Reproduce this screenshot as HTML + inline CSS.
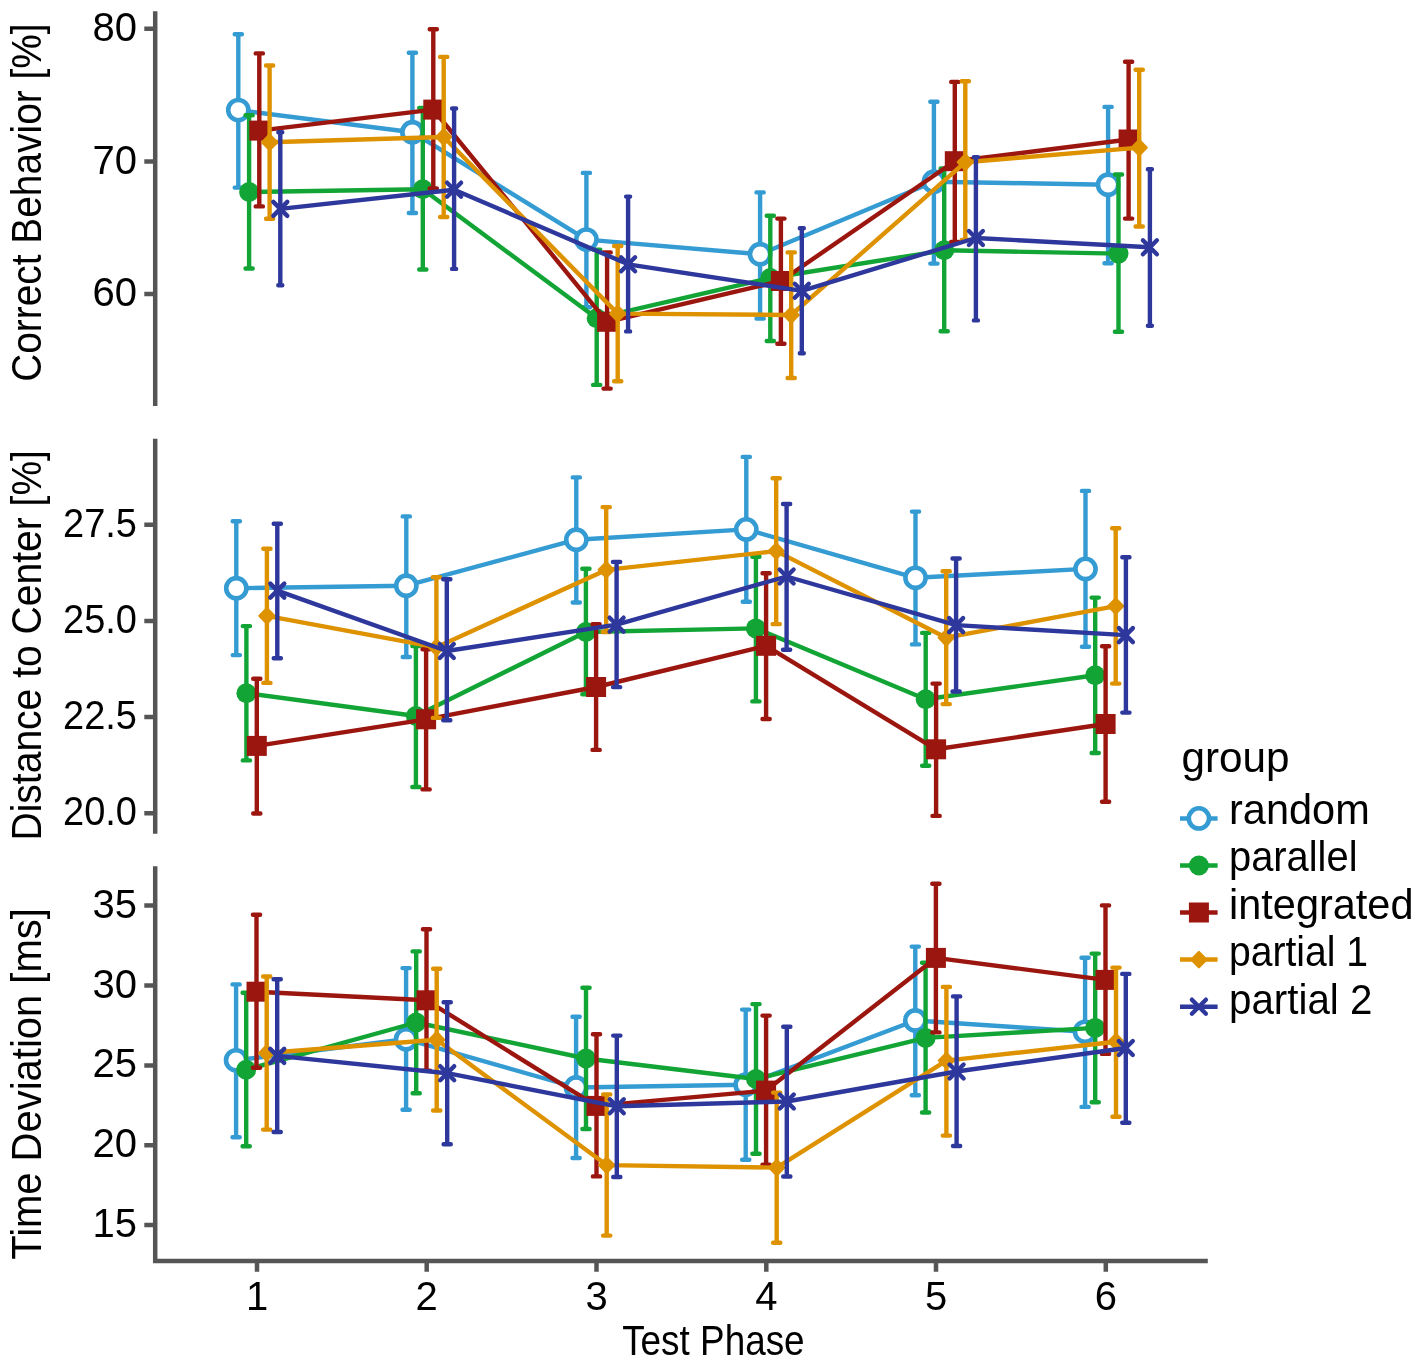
<!DOCTYPE html>
<html><head><meta charset="utf-8"><style>
html,body{margin:0;padding:0;background:#fff;}
svg{display:block;filter:blur(0.7px);}
</style></head><body>
<svg width="1418" height="1367" viewBox="0 0 1418 1367">
<rect width="1418" height="1367" fill="#fff"/>
<path d="M155.2 11.3V406" stroke="#555555" stroke-width="4.5" fill="none"/>
<path d="M155.2 438.8V833.7" stroke="#555555" stroke-width="4.5" fill="none"/>
<path d="M155.2 866.2V1263.3M152.95 1261.1H1207.8" stroke="#555555" stroke-width="4.5" fill="none"/>
<path d="M144.3 28.7H155M144.3 161.5H155M144.3 294.1H155M144.3 524.8H155M144.3 620.9H155M144.3 717.1H155M144.3 813.2H155M144.3 905.6H155M144.3 985.5H155M144.3 1065.4H155M144.3 1145.2H155M144.3 1225.1H155M257 1261V1271.7M426.7 1261V1271.7M596.5 1261V1271.7M766.3 1261V1271.7M936 1261V1271.7M1105.8 1261V1271.7" stroke="#555555" stroke-width="4.5" fill="none"/>
<path d="M238.3 110.1 L412.4 132.2 L586.4 239.6 L760.1 254.2 L933.9 181.7 L1108.1 184.7" fill="none" stroke="#349BD3" stroke-width="4.4" stroke-linejoin="round" stroke-linecap="round"/>
<path d="M238.3 34.3V187.6M234.7 34.3H241.9M234.7 187.6H241.9M412.4 52.8V213M408.8 52.8H416M408.8 213H416M586.4 172.9V307.2M582.8 172.9H590M582.8 307.2H590M760.1 192.4V318.6M756.5 192.4H763.7M756.5 318.6H763.7M933.9 101.8V263.6M930.3 101.8H937.5M930.3 263.6H937.5M1108.1 106.9V263.2M1104.5 106.9H1111.7M1104.5 263.2H1111.7" fill="none" stroke="#349BD3" stroke-width="4.4" stroke-linecap="round"/>
<circle cx="238.3" cy="110.1" r="10.1" fill="#fff" stroke="#349BD3" stroke-width="4.6"/>
<circle cx="412.4" cy="132.2" r="10.1" fill="#fff" stroke="#349BD3" stroke-width="4.6"/>
<circle cx="586.4" cy="239.6" r="10.1" fill="#fff" stroke="#349BD3" stroke-width="4.6"/>
<circle cx="760.1" cy="254.2" r="10.1" fill="#fff" stroke="#349BD3" stroke-width="4.6"/>
<circle cx="933.9" cy="181.7" r="10.1" fill="#fff" stroke="#349BD3" stroke-width="4.6"/>
<circle cx="1108.1" cy="184.7" r="10.1" fill="#fff" stroke="#349BD3" stroke-width="4.6"/>
<path d="M249.1 192 L422.8 189.3 L596.7 318.2 L770.3 278 L944.2 250.3 L1118.5 253.6" fill="none" stroke="#12A536" stroke-width="4.4" stroke-linejoin="round" stroke-linecap="round"/>
<path d="M249.1 115.2V268.5M245.5 115.2H252.7M245.5 268.5H252.7M422.8 108V269.5M419.2 108H426.4M419.2 269.5H426.4M596.7 249.6V384.9M593.1 249.6H600.3M593.1 384.9H600.3M770.3 215.8V341M766.7 215.8H773.9M766.7 341H773.9M944.2 168.4V331.3M940.6 168.4H947.8M940.6 331.3H947.8M1118.5 174.5V331.7M1114.9 174.5H1122.1M1114.9 331.7H1122.1" fill="none" stroke="#12A536" stroke-width="4.4" stroke-linecap="round"/>
<circle cx="249.1" cy="192" r="10" fill="#12A536"/>
<circle cx="422.8" cy="189.3" r="10" fill="#12A536"/>
<circle cx="596.7" cy="318.2" r="10" fill="#12A536"/>
<circle cx="770.3" cy="278" r="10" fill="#12A536"/>
<circle cx="944.2" cy="250.3" r="10" fill="#12A536"/>
<circle cx="1118.5" cy="253.6" r="10" fill="#12A536"/>
<path d="M259.3 130.6 L433.3 109.6 L607.1 321.8 L780.9 281 L954.8 161.2 L1128.6 139.5" fill="none" stroke="#9C1610" stroke-width="4.4" stroke-linejoin="round" stroke-linecap="round"/>
<path d="M259.3 53.4V206.4M255.7 53.4H262.9M255.7 206.4H262.9M433.3 29.2V188.5M429.7 29.2H436.9M429.7 188.5H436.9M607.1 252.4V388.6M603.5 252.4H610.7M603.5 388.6H610.7M780.9 218.6V343.8M777.3 218.6H784.5M777.3 343.8H784.5M954.8 81.9V242M951.2 81.9H958.4M951.2 242H958.4M1128.6 61.7V218.6M1125 61.7H1132.2M1125 218.6H1132.2" fill="none" stroke="#9C1610" stroke-width="4.4" stroke-linecap="round"/>
<rect x="249.3" y="120.6" width="20" height="20" fill="#9C1610"/>
<rect x="423.3" y="99.6" width="20" height="20" fill="#9C1610"/>
<rect x="597.1" y="311.8" width="20" height="20" fill="#9C1610"/>
<rect x="770.9" y="271" width="20" height="20" fill="#9C1610"/>
<rect x="944.8" y="151.2" width="20" height="20" fill="#9C1610"/>
<rect x="1118.6" y="129.5" width="20" height="20" fill="#9C1610"/>
<path d="M269.6 142.3 L443.7 137 L617.7 313.6 L791.2 315 L965.3 162.2 L1139.2 147.6" fill="none" stroke="#DE9200" stroke-width="4.4" stroke-linejoin="round" stroke-linecap="round"/>
<path d="M269.6 65.5V218.7M266 65.5H273.2M266 218.7H273.2M443.7 56.9V217M440.1 56.9H447.3M440.1 217H447.3M617.7 246V381.3M614.1 246H621.3M614.1 381.3H621.3M791.2 252.4V378M787.6 252.4H794.8M787.6 378H794.8M965.3 81.3V240M961.7 81.3H968.9M961.7 240H968.9M1139.2 69.7V226.5M1135.6 69.7H1142.8M1135.6 226.5H1142.8" fill="none" stroke="#DE9200" stroke-width="4.4" stroke-linecap="round"/>
<path d="M269.6 134.7L277 142.3L269.6 149.9L262.2 142.3Z" fill="#DE9200" stroke="#DE9200" stroke-width="2.4" stroke-linejoin="round"/>
<path d="M443.7 129.4L451.1 137L443.7 144.6L436.3 137Z" fill="#DE9200" stroke="#DE9200" stroke-width="2.4" stroke-linejoin="round"/>
<path d="M617.7 306L625.1 313.6L617.7 321.2L610.3 313.6Z" fill="#DE9200" stroke="#DE9200" stroke-width="2.4" stroke-linejoin="round"/>
<path d="M791.2 307.4L798.6 315L791.2 322.6L783.8 315Z" fill="#DE9200" stroke="#DE9200" stroke-width="2.4" stroke-linejoin="round"/>
<path d="M965.3 154.6L972.7 162.2L965.3 169.8L957.9 162.2Z" fill="#DE9200" stroke="#DE9200" stroke-width="2.4" stroke-linejoin="round"/>
<path d="M1139.2 140L1146.6 147.6L1139.2 155.2L1131.8 147.6Z" fill="#DE9200" stroke="#DE9200" stroke-width="2.4" stroke-linejoin="round"/>
<path d="M280.3 208.9 L454.1 189.7 L628.1 264.3 L801.8 290.8 L975.9 238 L1149.9 247.3" fill="none" stroke="#2E389C" stroke-width="4.4" stroke-linejoin="round" stroke-linecap="round"/>
<path d="M280.3 132.2V285.3M278.3 132.2H282.3M278.3 285.3H282.3M454.1 108.5V268.9M452.1 108.5H456.1M452.1 268.9H456.1M628.1 196.6V331.4M626.1 196.6H630.1M626.1 331.4H630.1M801.8 228.2V353.3M799.8 228.2H803.8M799.8 353.3H803.8M975.9 157.1V320.4M973.9 157.1H977.9M973.9 320.4H977.9M1149.9 169.2V325.8M1147.9 169.2H1151.9M1147.9 325.8H1151.9" fill="none" stroke="#2E389C" stroke-width="4.4" stroke-linecap="round"/>
<path d="M273.3 201.9L287.3 215.9M273.3 215.9L287.3 201.9" stroke="#2E389C" stroke-width="4.4" stroke-linecap="round" fill="none"/>
<path d="M447.1 182.7L461.1 196.7M447.1 196.7L461.1 182.7" stroke="#2E389C" stroke-width="4.4" stroke-linecap="round" fill="none"/>
<path d="M621.1 257.3L635.1 271.3M621.1 271.3L635.1 257.3" stroke="#2E389C" stroke-width="4.4" stroke-linecap="round" fill="none"/>
<path d="M794.8 283.8L808.8 297.8M794.8 297.8L808.8 283.8" stroke="#2E389C" stroke-width="4.4" stroke-linecap="round" fill="none"/>
<path d="M968.9 231L982.9 245M968.9 245L982.9 231" stroke="#2E389C" stroke-width="4.4" stroke-linecap="round" fill="none"/>
<path d="M1142.9 240.3L1156.9 254.3M1142.9 254.3L1156.9 240.3" stroke="#2E389C" stroke-width="4.4" stroke-linecap="round" fill="none"/>
<path d="M236.3 588.2 L406.3 585.7 L576.3 539.7 L746.3 529.4 L915.5 577.8 L1085.5 568.9" fill="none" stroke="#349BD3" stroke-width="4.4" stroke-linejoin="round" stroke-linecap="round"/>
<path d="M236.3 521.3V655.1M232.7 521.3H239.9M232.7 655.1H239.9M406.3 516.4V657M402.7 516.4H409.9M402.7 657H409.9M576.3 477.4V602.5M572.7 477.4H579.9M572.7 602.5H579.9M746.3 456.9V601.8M742.7 456.9H749.9M742.7 601.8H749.9M915.5 511.6V644.4M911.9 511.6H919.1M911.9 644.4H919.1M1085.5 490.9V646.7M1081.9 490.9H1089.1M1081.9 646.7H1089.1" fill="none" stroke="#349BD3" stroke-width="4.4" stroke-linecap="round"/>
<circle cx="236.3" cy="588.2" r="10.1" fill="#fff" stroke="#349BD3" stroke-width="4.6"/>
<circle cx="406.3" cy="585.7" r="10.1" fill="#fff" stroke="#349BD3" stroke-width="4.6"/>
<circle cx="576.3" cy="539.7" r="10.1" fill="#fff" stroke="#349BD3" stroke-width="4.6"/>
<circle cx="746.3" cy="529.4" r="10.1" fill="#fff" stroke="#349BD3" stroke-width="4.6"/>
<circle cx="915.5" cy="577.8" r="10.1" fill="#fff" stroke="#349BD3" stroke-width="4.6"/>
<circle cx="1085.5" cy="568.9" r="10.1" fill="#fff" stroke="#349BD3" stroke-width="4.6"/>
<path d="M246.4 693.2 L415.9 716 L585.9 632 L755.9 628.4 L925.7 699.3 L1095.2 675.2" fill="none" stroke="#12A536" stroke-width="4.4" stroke-linejoin="round" stroke-linecap="round"/>
<path d="M246.4 626.1V760.4M242.8 626.1H250M242.8 760.4H250M415.9 646.1V787M412.3 646.1H419.5M412.3 787H419.5M585.9 568.7V694.3M582.3 568.7H589.5M582.3 694.3H589.5M755.9 556.7V701.4M752.3 556.7H759.5M752.3 701.4H759.5M925.7 632.9V765.7M922.1 632.9H929.3M922.1 765.7H929.3M1095.2 597.6V753M1091.6 597.6H1098.8M1091.6 753H1098.8" fill="none" stroke="#12A536" stroke-width="4.4" stroke-linecap="round"/>
<circle cx="246.4" cy="693.2" r="10" fill="#12A536"/>
<circle cx="415.9" cy="716" r="10" fill="#12A536"/>
<circle cx="585.9" cy="632" r="10" fill="#12A536"/>
<circle cx="755.9" cy="628.4" r="10" fill="#12A536"/>
<circle cx="925.7" cy="699.3" r="10" fill="#12A536"/>
<circle cx="1095.2" cy="675.2" r="10" fill="#12A536"/>
<path d="M256.8 745.9 L426.1 719.3 L596.1 687 L766.1 645.8 L936.1 749.3 L1105.6 724" fill="none" stroke="#9C1610" stroke-width="4.4" stroke-linejoin="round" stroke-linecap="round"/>
<path d="M256.8 678.7V813.5M253.2 678.7H260.4M253.2 813.5H260.4M426.1 649.3V789.4M422.5 649.3H429.7M422.5 789.4H429.7M596.1 624.3V749.9M592.5 624.3H599.7M592.5 749.9H599.7M766.1 573.3V719M762.5 573.3H769.7M762.5 719H769.7M936.1 683.6V815.9M932.5 683.6H939.7M932.5 815.9H939.7M1105.6 646.2V801.7M1102 646.2H1109.2M1102 801.7H1109.2" fill="none" stroke="#9C1610" stroke-width="4.4" stroke-linecap="round"/>
<rect x="246.8" y="735.9" width="20" height="20" fill="#9C1610"/>
<rect x="416.1" y="709.3" width="20" height="20" fill="#9C1610"/>
<rect x="586.1" y="677" width="20" height="20" fill="#9C1610"/>
<rect x="756.1" y="635.8" width="20" height="20" fill="#9C1610"/>
<rect x="926.1" y="739.3" width="20" height="20" fill="#9C1610"/>
<rect x="1095.6" y="714" width="20" height="20" fill="#9C1610"/>
<path d="M266.9 615.9 L436.4 647.3 L606.2 569.9 L776.2 551.1 L946.2 637.7 L1115.7 606.1" fill="none" stroke="#DE9200" stroke-width="4.4" stroke-linejoin="round" stroke-linecap="round"/>
<path d="M266.9 548.8V682.9M263.3 548.8H270.5M263.3 682.9H270.5M436.4 577.3V717.9M432.8 577.3H440M432.8 717.9H440M606.2 507.1V632M602.6 507.1H609.8M602.6 632H609.8M776.2 478.2V624.1M772.6 478.2H779.8M772.6 624.1H779.8M946.2 571.3V704.1M942.6 571.3H949.8M942.6 704.1H949.8M1115.7 528.3V683.6M1112.1 528.3H1119.3M1112.1 683.6H1119.3" fill="none" stroke="#DE9200" stroke-width="4.4" stroke-linecap="round"/>
<path d="M266.9 608.3L274.3 615.9L266.9 623.5L259.5 615.9Z" fill="#DE9200" stroke="#DE9200" stroke-width="2.4" stroke-linejoin="round"/>
<path d="M436.4 639.7L443.8 647.3L436.4 654.9L429 647.3Z" fill="#DE9200" stroke="#DE9200" stroke-width="2.4" stroke-linejoin="round"/>
<path d="M606.2 562.3L613.6 569.9L606.2 577.5L598.8 569.9Z" fill="#DE9200" stroke="#DE9200" stroke-width="2.4" stroke-linejoin="round"/>
<path d="M776.2 543.5L783.6 551.1L776.2 558.7L768.8 551.1Z" fill="#DE9200" stroke="#DE9200" stroke-width="2.4" stroke-linejoin="round"/>
<path d="M946.2 630.1L953.6 637.7L946.2 645.3L938.8 637.7Z" fill="#DE9200" stroke="#DE9200" stroke-width="2.4" stroke-linejoin="round"/>
<path d="M1115.7 598.5L1123.1 606.1L1115.7 613.7L1108.3 606.1Z" fill="#DE9200" stroke="#DE9200" stroke-width="2.4" stroke-linejoin="round"/>
<path d="M277.3 590.6 L446.8 651 L616.6 624.7 L786.6 576.5 L956.1 625.1 L1125.9 635.1" fill="none" stroke="#2E389C" stroke-width="4.4" stroke-linejoin="round" stroke-linecap="round"/>
<path d="M277.3 523.7V658.2M273.7 523.7H280.9M273.7 658.2H280.9M446.8 579.2V720.3M443.2 579.2H450.4M443.2 720.3H450.4M616.6 561.9V687.1M613 561.9H620.2M613 687.1H620.2M786.6 504V649.7M783 504H790.2M783 649.7H790.2M956.1 558.5V691.5M952.5 558.5H959.7M952.5 691.5H959.7M1125.9 557.3V712.6M1122.3 557.3H1129.5M1122.3 712.6H1129.5" fill="none" stroke="#2E389C" stroke-width="4.4" stroke-linecap="round"/>
<path d="M270.3 583.6L284.3 597.6M270.3 597.6L284.3 583.6" stroke="#2E389C" stroke-width="4.4" stroke-linecap="round" fill="none"/>
<path d="M439.8 644L453.8 658M439.8 658L453.8 644" stroke="#2E389C" stroke-width="4.4" stroke-linecap="round" fill="none"/>
<path d="M609.6 617.7L623.6 631.7M609.6 631.7L623.6 617.7" stroke="#2E389C" stroke-width="4.4" stroke-linecap="round" fill="none"/>
<path d="M779.6 569.5L793.6 583.5M779.6 583.5L793.6 569.5" stroke="#2E389C" stroke-width="4.4" stroke-linecap="round" fill="none"/>
<path d="M949.1 618.1L963.1 632.1M949.1 632.1L963.1 618.1" stroke="#2E389C" stroke-width="4.4" stroke-linecap="round" fill="none"/>
<path d="M1118.9 628.1L1132.9 642.1M1118.9 642.1L1132.9 628.1" stroke="#2E389C" stroke-width="4.4" stroke-linecap="round" fill="none"/>
<path d="M236.1 1060.3 L406.1 1039.2 L576.1 1087.5 L745.7 1084.7 L915.3 1020.5 L1085.1 1031.8" fill="none" stroke="#349BD3" stroke-width="4.4" stroke-linejoin="round" stroke-linecap="round"/>
<path d="M236.1 984.4V1137.3M232.5 984.4H239.7M232.5 1137.3H239.7M406.1 968.1V1109.8M402.5 968.1H409.7M402.5 1109.8H409.7M576.1 1016.8V1158M572.5 1016.8H579.7M572.5 1158H579.7M745.7 1009.6V1159.7M742.1 1009.6H749.3M742.1 1159.7H749.3M915.3 946.6V1095.2M911.7 946.6H918.9M911.7 1095.2H918.9M1085.1 957.7V1106.9M1081.5 957.7H1088.7M1081.5 1106.9H1088.7" fill="none" stroke="#349BD3" stroke-width="4.4" stroke-linecap="round"/>
<circle cx="236.1" cy="1060.3" r="10.1" fill="#fff" stroke="#349BD3" stroke-width="4.6"/>
<circle cx="406.1" cy="1039.2" r="10.1" fill="#fff" stroke="#349BD3" stroke-width="4.6"/>
<circle cx="576.1" cy="1087.5" r="10.1" fill="#fff" stroke="#349BD3" stroke-width="4.6"/>
<circle cx="745.7" cy="1084.7" r="10.1" fill="#fff" stroke="#349BD3" stroke-width="4.6"/>
<circle cx="915.3" cy="1020.5" r="10.1" fill="#fff" stroke="#349BD3" stroke-width="4.6"/>
<circle cx="1085.1" cy="1031.8" r="10.1" fill="#fff" stroke="#349BD3" stroke-width="4.6"/>
<path d="M246.2 1069.7 L416.2 1022.5 L586 1058.5 L756 1079 L925.6 1037.9 L1095.2 1027.9" fill="none" stroke="#12A536" stroke-width="4.4" stroke-linejoin="round" stroke-linecap="round"/>
<path d="M246.2 992.7V1146.2M242.6 992.7H249.8M242.6 1146.2H249.8M416.2 951.4V1093.2M412.6 951.4H419.8M412.6 1093.2H419.8M586 987.8V1129M582.4 987.8H589.6M582.4 1129H589.6M756 1004.1V1153.8M752.4 1004.1H759.6M752.4 1153.8H759.6M925.6 962.8V1112.5M922 962.8H929.2M922 1112.5H929.2M1095.2 953.6V1102.3M1091.6 953.6H1098.8M1091.6 1102.3H1098.8" fill="none" stroke="#12A536" stroke-width="4.4" stroke-linecap="round"/>
<circle cx="246.2" cy="1069.7" r="10" fill="#12A536"/>
<circle cx="416.2" cy="1022.5" r="10" fill="#12A536"/>
<circle cx="586" cy="1058.5" r="10" fill="#12A536"/>
<circle cx="756" cy="1079" r="10" fill="#12A536"/>
<circle cx="925.6" cy="1037.9" r="10" fill="#12A536"/>
<circle cx="1095.2" cy="1027.9" r="10" fill="#12A536"/>
<path d="M256.5 991.7 L426.5 1000.3 L596.5 1105.9 L766.1 1090.6 L935.9 957.9 L1105.5 979.9" fill="none" stroke="#9C1610" stroke-width="4.4" stroke-linejoin="round" stroke-linecap="round"/>
<path d="M256.5 914.7V1067.8M252.9 914.7H260.1M252.9 1067.8H260.1M426.5 929.2V1070.8M422.9 929.2H430.1M422.9 1070.8H430.1M596.5 1034.2V1176.4M592.9 1034.2H600.1M592.9 1176.4H600.1M766.1 1015.6V1164.7M762.5 1015.6H769.7M762.5 1164.7H769.7M935.9 883.8V1032.4M932.3 883.8H939.5M932.3 1032.4H939.5M1105.5 905.4V1053.9M1101.9 905.4H1109.1M1101.9 1053.9H1109.1" fill="none" stroke="#9C1610" stroke-width="4.4" stroke-linecap="round"/>
<rect x="246.5" y="981.7" width="20" height="20" fill="#9C1610"/>
<rect x="416.5" y="990.3" width="20" height="20" fill="#9C1610"/>
<rect x="586.5" y="1095.9" width="20" height="20" fill="#9C1610"/>
<rect x="756.1" y="1080.6" width="20" height="20" fill="#9C1610"/>
<rect x="925.9" y="947.9" width="20" height="20" fill="#9C1610"/>
<rect x="1095.5" y="969.9" width="20" height="20" fill="#9C1610"/>
<path d="M266.7 1053 L436.7 1039.8 L606.7 1165.1 L776.7 1167.6 L946.4 1060.6 L1116 1041.7" fill="none" stroke="#DE9200" stroke-width="4.4" stroke-linejoin="round" stroke-linecap="round"/>
<path d="M266.7 976.5V1129.6M263.1 976.5H270.3M263.1 1129.6H270.3M436.7 968.7V1110.5M433.1 968.7H440.3M433.1 1110.5H440.3M606.7 1094.4V1235.6M603.1 1094.4H610.3M603.1 1235.6H610.3M776.7 1092.6V1242.7M773.1 1092.6H780.3M773.1 1242.7H780.3M946.4 986.9V1135.6M942.8 986.9H950M942.8 1135.6H950M1116 967.6V1116.7M1112.4 967.6H1119.6M1112.4 1116.7H1119.6" fill="none" stroke="#DE9200" stroke-width="4.4" stroke-linecap="round"/>
<path d="M266.7 1045.4L274.1 1053L266.7 1060.6L259.3 1053Z" fill="#DE9200" stroke="#DE9200" stroke-width="2.4" stroke-linejoin="round"/>
<path d="M436.7 1032.2L444.1 1039.8L436.7 1047.4L429.3 1039.8Z" fill="#DE9200" stroke="#DE9200" stroke-width="2.4" stroke-linejoin="round"/>
<path d="M606.7 1157.5L614.1 1165.1L606.7 1172.7L599.3 1165.1Z" fill="#DE9200" stroke="#DE9200" stroke-width="2.4" stroke-linejoin="round"/>
<path d="M776.7 1160L784.1 1167.6L776.7 1175.2L769.3 1167.6Z" fill="#DE9200" stroke="#DE9200" stroke-width="2.4" stroke-linejoin="round"/>
<path d="M946.4 1053L953.8 1060.6L946.4 1068.2L939 1060.6Z" fill="#DE9200" stroke="#DE9200" stroke-width="2.4" stroke-linejoin="round"/>
<path d="M1116 1034.1L1123.4 1041.7L1116 1049.3L1108.6 1041.7Z" fill="#DE9200" stroke="#DE9200" stroke-width="2.4" stroke-linejoin="round"/>
<path d="M277.2 1055.9 L447.2 1073.2 L616.8 1106.3 L786.8 1101.5 L956.6 1071.5 L1125.8 1048" fill="none" stroke="#2E389C" stroke-width="4.4" stroke-linejoin="round" stroke-linecap="round"/>
<path d="M277.2 979.3V1132M273.6 979.3H280.8M273.6 1132H280.8M447.2 1002.3V1144.3M443.6 1002.3H450.8M443.6 1144.3H450.8M616.8 1035.6V1177M613.2 1035.6H620.4M613.2 1177H620.4M786.8 1026.8V1176.5M783.2 1026.8H790.4M783.2 1176.5H790.4M956.6 996.4V1146M953 996.4H960.2M953 1146H960.2M1125.8 973.9V1122.7M1122.2 973.9H1129.4M1122.2 1122.7H1129.4" fill="none" stroke="#2E389C" stroke-width="4.4" stroke-linecap="round"/>
<path d="M270.2 1048.9L284.2 1062.9M270.2 1062.9L284.2 1048.9" stroke="#2E389C" stroke-width="4.4" stroke-linecap="round" fill="none"/>
<path d="M440.2 1066.2L454.2 1080.2M440.2 1080.2L454.2 1066.2" stroke="#2E389C" stroke-width="4.4" stroke-linecap="round" fill="none"/>
<path d="M609.8 1099.3L623.8 1113.3M609.8 1113.3L623.8 1099.3" stroke="#2E389C" stroke-width="4.4" stroke-linecap="round" fill="none"/>
<path d="M779.8 1094.5L793.8 1108.5M779.8 1108.5L793.8 1094.5" stroke="#2E389C" stroke-width="4.4" stroke-linecap="round" fill="none"/>
<path d="M949.6 1064.5L963.6 1078.5M949.6 1078.5L963.6 1064.5" stroke="#2E389C" stroke-width="4.4" stroke-linecap="round" fill="none"/>
<path d="M1118.8 1041L1132.8 1055M1118.8 1055L1132.8 1041" stroke="#2E389C" stroke-width="4.4" stroke-linecap="round" fill="none"/>
<path d="M1180 818.4H1217.6" stroke="#349BD3" stroke-width="4.5"/>
<circle cx="1198.9" cy="818.4" r="10.1" fill="#fff" stroke="#349BD3" stroke-width="4.6"/>
<path d="M1180 865.5H1217.6" stroke="#12A536" stroke-width="4.5"/>
<circle cx="1198.9" cy="865.5" r="10" fill="#12A536"/>
<path d="M1180 912.5H1217.6" stroke="#9C1610" stroke-width="4.5"/>
<rect x="1188.9" y="902.5" width="20" height="20" fill="#9C1610"/>
<path d="M1180 959.6H1217.6" stroke="#DE9200" stroke-width="4.5"/>
<path d="M1198.9 952L1206.3 959.6L1198.9 967.2L1191.5 959.6Z" fill="#DE9200" stroke="#DE9200" stroke-width="2.4" stroke-linejoin="round"/>
<path d="M1180 1006.7H1217.6" stroke="#2E389C" stroke-width="4.5"/>
<path d="M1191.9 999.7L1205.9 1013.7M1191.9 1013.7L1205.9 999.7" stroke="#2E389C" stroke-width="4.4" stroke-linecap="round" fill="none"/>
<g fill="#000">
<text x="137" y="40.7" text-anchor="end" font-size="40" font-family="Liberation Sans, sans-serif">80</text>
<text x="137" y="173.5" text-anchor="end" font-size="40" font-family="Liberation Sans, sans-serif">70</text>
<text x="137" y="306.1" text-anchor="end" font-size="40" font-family="Liberation Sans, sans-serif">60</text>
<text x="137" y="536.8" text-anchor="end" textLength="73.9" lengthAdjust="spacingAndGlyphs" font-size="40" font-family="Liberation Sans, sans-serif">27.5</text>
<text x="137" y="632.9" text-anchor="end" textLength="73.9" lengthAdjust="spacingAndGlyphs" font-size="40" font-family="Liberation Sans, sans-serif">25.0</text>
<text x="137" y="729.1" text-anchor="end" textLength="73.9" lengthAdjust="spacingAndGlyphs" font-size="40" font-family="Liberation Sans, sans-serif">22.5</text>
<text x="137" y="825.2" text-anchor="end" textLength="73.9" lengthAdjust="spacingAndGlyphs" font-size="40" font-family="Liberation Sans, sans-serif">20.0</text>
<text x="137" y="917.6" text-anchor="end" font-size="40" font-family="Liberation Sans, sans-serif">35</text>
<text x="137" y="997.5" text-anchor="end" font-size="40" font-family="Liberation Sans, sans-serif">30</text>
<text x="137" y="1077.4" text-anchor="end" font-size="40" font-family="Liberation Sans, sans-serif">25</text>
<text x="137" y="1157.2" text-anchor="end" font-size="40" font-family="Liberation Sans, sans-serif">20</text>
<text x="137" y="1237.1" text-anchor="end" font-size="40" font-family="Liberation Sans, sans-serif">15</text>
<text x="257" y="1310" text-anchor="middle" font-size="40" font-family="Liberation Sans, sans-serif">1</text>
<text x="426.7" y="1310" text-anchor="middle" font-size="40" font-family="Liberation Sans, sans-serif">2</text>
<text x="596.5" y="1310" text-anchor="middle" font-size="40" font-family="Liberation Sans, sans-serif">3</text>
<text x="766.3" y="1310" text-anchor="middle" font-size="40" font-family="Liberation Sans, sans-serif">4</text>
<text x="936" y="1310" text-anchor="middle" font-size="40" font-family="Liberation Sans, sans-serif">5</text>
<text x="1105.8" y="1310" text-anchor="middle" font-size="40" font-family="Liberation Sans, sans-serif">6</text>
<text x="713.4" y="1354.6" text-anchor="middle" textLength="182.5" lengthAdjust="spacingAndGlyphs" font-size="42" font-family="Liberation Sans, sans-serif">Test Phase</text>
<text transform="translate(41.0 202.6) rotate(-90)" text-anchor="middle" textLength="358.5" lengthAdjust="spacingAndGlyphs" font-size="42" font-family="Liberation Sans, sans-serif">Correct Behavior [%]</text>
<text transform="translate(41.0 645.3) rotate(-90)" text-anchor="middle" textLength="390.5" lengthAdjust="spacingAndGlyphs" font-size="42" font-family="Liberation Sans, sans-serif">Distance to Center [%]</text>
<text transform="translate(41.0 1084.0) rotate(-90)" text-anchor="middle" textLength="351.6" lengthAdjust="spacingAndGlyphs" font-size="42" font-family="Liberation Sans, sans-serif">Time Deviation [ms]</text>
<text x="1181.5" y="771.7" textLength="108" lengthAdjust="spacingAndGlyphs" font-size="42" font-family="Liberation Sans, sans-serif">group</text>
<text x="1229" y="823.6" textLength="140.8" lengthAdjust="spacingAndGlyphs" font-size="42" font-family="Liberation Sans, sans-serif">random</text>
<text x="1229" y="871.2" textLength="128.5" lengthAdjust="spacingAndGlyphs" font-size="42" font-family="Liberation Sans, sans-serif">parallel</text>
<text x="1229" y="918.8" textLength="184.5" lengthAdjust="spacingAndGlyphs" font-size="42" font-family="Liberation Sans, sans-serif">integrated</text>
<text x="1229" y="966.4" textLength="139" lengthAdjust="spacingAndGlyphs" font-size="42" font-family="Liberation Sans, sans-serif">partial 1</text>
<text x="1229" y="1014" textLength="143.4" lengthAdjust="spacingAndGlyphs" font-size="42" font-family="Liberation Sans, sans-serif">partial 2</text>
</g>
</svg>
</body></html>
